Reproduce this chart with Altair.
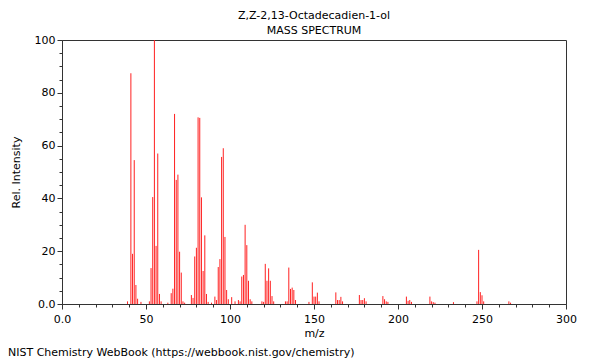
import altair as alt
import pandas as pd

# m/z values and relative intensities
mz = [39, 41, 42, 43, 44, 45, 47, 52, 53, 54, 55, 56, 57, 58, 59, 63,
      65, 66, 67, 68, 69, 70, 71, 72, 73, 77, 78, 79, 80, 81, 82, 83,
      84, 85, 86, 87, 89, 91, 92, 93, 94, 95, 96, 97, 98, 99, 101, 103,
      105, 106, 107, 108, 109, 110, 111, 112, 113, 119, 120, 121, 122,
      123, 124, 125, 126, 133, 134, 135, 136, 137, 138, 139, 147, 149,
      150, 151, 152, 153, 163, 164, 165, 166, 167, 177, 178, 179, 180,
      181, 191, 192, 193, 194, 205, 206, 207, 208, 219, 220, 221, 222,
      233, 247, 248, 249, 250, 251, 266, 267]
intensity = [1.0, 87.4, 19.0, 54.5, 7.2, 2.0, 0.8, 1.0, 13.6, 40.5, 100.0,
             22.0, 57.0, 3.8, 1.0, 0.5, 4.1, 5.8, 72.0, 47.0, 49.0, 19.8,
             11.9, 1.0, 0.5, 3.4, 2.3, 18.0, 21.3, 70.7, 70.5, 40.4, 12.5,
             26.0, 3.8, 0.8, 0.5, 2.8, 1.5, 14.0, 17.0, 55.7, 59.0, 25.4,
             5.3, 1.8, 2.6, 1.0, 1.5, 1.0, 10.4, 11.0, 30.0, 22.3, 8.8, 1.8,
             1.0, 1.0, 0.8, 15.2, 8.8, 13.5, 8.8, 3.0, 1.0, 1.0, 1.0, 13.8,
             5.7, 6.2, 5.3, 1.5, 0.8, 8.2, 2.8, 2.8, 4.3, 1.0, 4.4, 1.5, 1.5,
             2.7, 1.0, 3.4, 1.5, 1.5, 2.2, 1.0, 3.0, 1.8, 1.0, 0.8, 2.8, 1.2,
             1.5, 0.8, 2.8, 1.0, 0.7, 0.5, 0.7, 1.0, 20.5, 4.5, 3.3, 1.0,
             1.0, 0.5]

x_ticks = list(range(0, 301, 10))
y_ticks = list(range(0, 101, 5))
title_text = "Z,Z-2,13-Octadecadien-1-ol"
subtitle_text = "MASS SPECTRUM"
footer_text = "NIST Chemistry WebBook (https://webbook.nist.gov/chemistry)"

FONT = "DejaVu Sans"
AX = "#333333"

df = pd.DataFrame({"mz": mz, "intensity": intensity})

bars = alt.Chart(df).mark_rule(color="#ff2020", strokeWidth=1).encode(
    x=alt.X(
        "mz:Q",
        scale=alt.Scale(domain=[0, 300], nice=False, zero=False),
        axis=alt.Axis(
            values=x_ticks,
            labelExpr="datum.value % 50 === 0 ? (datum.value === 0 ? '0.0' : datum.label) : ''",
            tickSize={"condition": {"test": "datum.value % 50 === 0", "value": 5}, "value": 3},
            title="m/z",
            grid=False,
            labelFlush=False,
            labelPadding=4,
            titlePadding=3,
        ),
    ),
    y=alt.Y(
        "intensity:Q",
        scale=alt.Scale(domain=[0, 100], nice=False),
        axis=alt.Axis(
            values=y_ticks,
            labelExpr="datum.value % 20 === 0 ? (datum.value === 0 ? '0.0' : datum.label) : ''",
            tickSize={"condition": {"test": "datum.value % 20 === 0", "value": 5}, "value": 3},
            title="Rel. Intensity",
            grid=False,
            labelFlush=False,
            labelPadding=2,
            titlePadding=13,
        ),
    ),
    y2=alt.datum(0),
)

footer = alt.Chart(pd.DataFrame({"t": [footer_text]})).mark_text(
    align="left", baseline="middle", font=FONT, fontSize=11, color="black"
).encode(x=alt.value(-54), y=alt.value(313), text="t:N")

chart = alt.layer(bars, footer).properties(
    width=504,
    height=264,
    autosize=alt.AutoSizeParams(type="none"),
    padding={"left": 54, "top": 32, "right": 26, "bottom": 60},
    title=alt.TitleParams(
        text=title_text,
        subtitle=subtitle_text,
        anchor="middle",
        frame="group",
        font=FONT,
        fontSize=11,
        fontWeight="normal",
        color="black",
        subtitleFont=FONT,
        subtitleFontSize=11,
        subtitleColor="black",
        subtitlePadding=4,
        offset=-2,
    ),
).configure_view(stroke=AX, strokeWidth=1).configure_axis(
    domainColor=AX,
    tickColor=AX,
    labelColor="black",
    titleColor="black",
    labelFont=FONT,
    titleFont=FONT,
    labelFontSize=11,
    titleFontSize=11,
    titleFontWeight="normal",
)

chart.save("out.html", embed_options={"renderer": "svg", "actions": False})
